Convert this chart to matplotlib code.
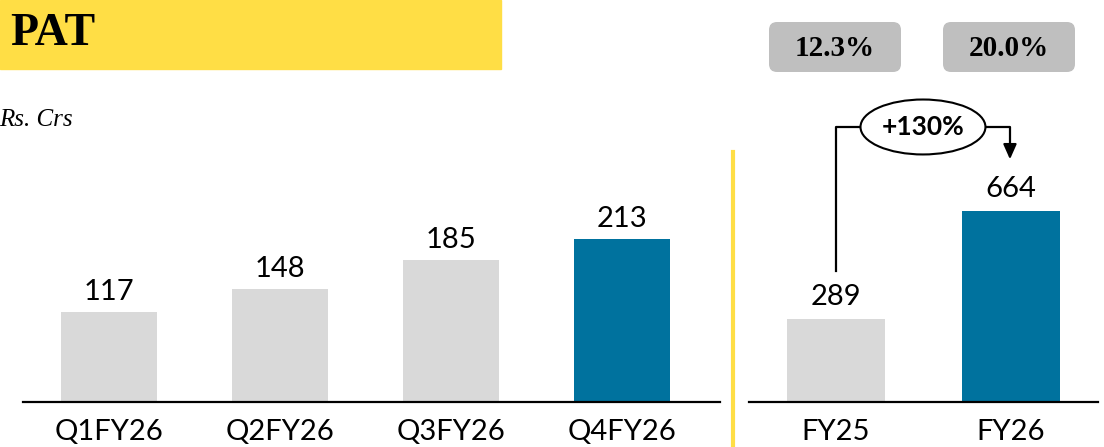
import matplotlib.pyplot as plt
from matplotlib.patches import Rectangle, FancyBboxPatch, Ellipse

# quarterly PAT, Rs. Crs
quarters = ["Q1FY26", "Q2FY26", "Q3FY26", "Q4FY26"]
quarter_pat = [117, 148, 185, 213]

# annual PAT
years = ["FY25", "FY26"]
year_pat = [289, 664]
margins = ["12.3%", "20.0%"]
growth = "+130%"

GREY = "#D9D9D9"
BLUE = "#00729E"
YELLOW = "#FFDE45"
num_font = ["Lato", "DejaVu Sans"]

W, H = 1104, 447
fig = plt.figure(figsize=(W / 100, H / 100), dpi=100)


def px_axes(x0, x1, y_base, y_top):
    # axes placed with pixel edges (y measured from top)
    return fig.add_axes([x0 / W, (H - y_base) / H, (x1 - x0) / W, (y_base - y_top) / H])


def style(ax):
    for s in ["top", "right", "left"]:
        ax.spines[s].set_visible(False)
    ax.spines["bottom"].set_linewidth(1.6)
    ax.set_yticks([])
    ax.tick_params(axis="x", length=0, pad=12)
    for lab in ax.get_xticklabels():
        lab.set_fontsize(21)
        lab.set_family(num_font)


# ---- quarterly panel
ax1 = px_axes(23, 720, 402, 150)
colors = [GREY] * (len(quarters) - 1) + [BLUE]
x1 = range(len(quarters))
ax1.bar(x1, quarter_pat, width=0.556, color=colors)
for i, v in enumerate(quarter_pat):
    ax1.text(i, v + 9, str(v), ha="center", va="bottom", fontsize=21, family=num_font)
ax1.set_xticks(list(x1), quarters)
ax1.set_xlim(-0.503, 3.573)
ax1.set_ylim(0, 329)
style(ax1)

# ---- annual panel
ax2 = px_axes(749, 1098, 402, 150)
x2 = range(len(years))
ax2.bar(x2, year_pat, width=0.56, color=[GREY, BLUE])
for i, v in enumerate(year_pat):
    ax2.text(i, v + 32, str(v), ha="center", va="bottom", fontsize=21, family=num_font)
ax2.set_xticks(list(x2), years)
ax2.set_xlim(-0.497, 1.497)
ax2.set_ylim(0, 876)
style(ax2)

# growth connector
y_top = 956
ax2.plot([0, 0, 0.137], [year_pat[0] + 165, y_top, y_top], color="black", lw=1.6, clip_on=False)
ax2.plot([0.851, 0.994, 0.994], [y_top, y_top, year_pat[1] + 210], color="black", lw=1.6, clip_on=False)
ax2.annotate("", xy=(0.994, year_pat[1] + 170), xytext=(0.994, year_pat[1] + 225),
             arrowprops=dict(arrowstyle="-|>,head_width=0.4,head_length=0.9", color="black", lw=1.6),
             annotation_clip=False)
ax2.add_patch(Ellipse((0.497, y_top), 0.714, 191, facecolor="white", edgecolor="black",
                      lw=1.5, clip_on=False, zorder=3))
ax2.text(0.497, y_top, growth, ha="center", va="center", fontsize=19, fontweight="bold",
         family=num_font, zorder=4)

# ---- decorations in pixel space
deco = fig.add_axes([0, 0, 1, 1], zorder=-1)
deco.set_xlim(0, W)
deco.set_ylim(H, 0)
deco.axis("off")
deco.add_patch(Rectangle((0, 0), 501, 69, color=YELLOW))
deco.text(10, 34, "PAT", ha="left", va="center", fontsize=33, fontweight="bold",
          family="Liberation Serif")
deco.text(-1, 120, "Rs. Crs", ha="left", va="center", fontsize=18, style="italic",
          family="Liberation Serif")
deco.plot([733, 733], [152, H], color=YELLOW, lw=3)

for xc, m in zip([835, 1009], margins):
    deco.add_patch(FancyBboxPatch((xc - 66, 22), 132, 50,
                                  boxstyle="round,pad=0,rounding_size=8",
                                  facecolor="#BFBFBF", edgecolor="none"))
    deco.text(xc, 48, m, ha="center", va="center", fontsize=21, fontweight="bold",
              family="Liberation Serif")

fig.savefig("out.png", dpi=100)
